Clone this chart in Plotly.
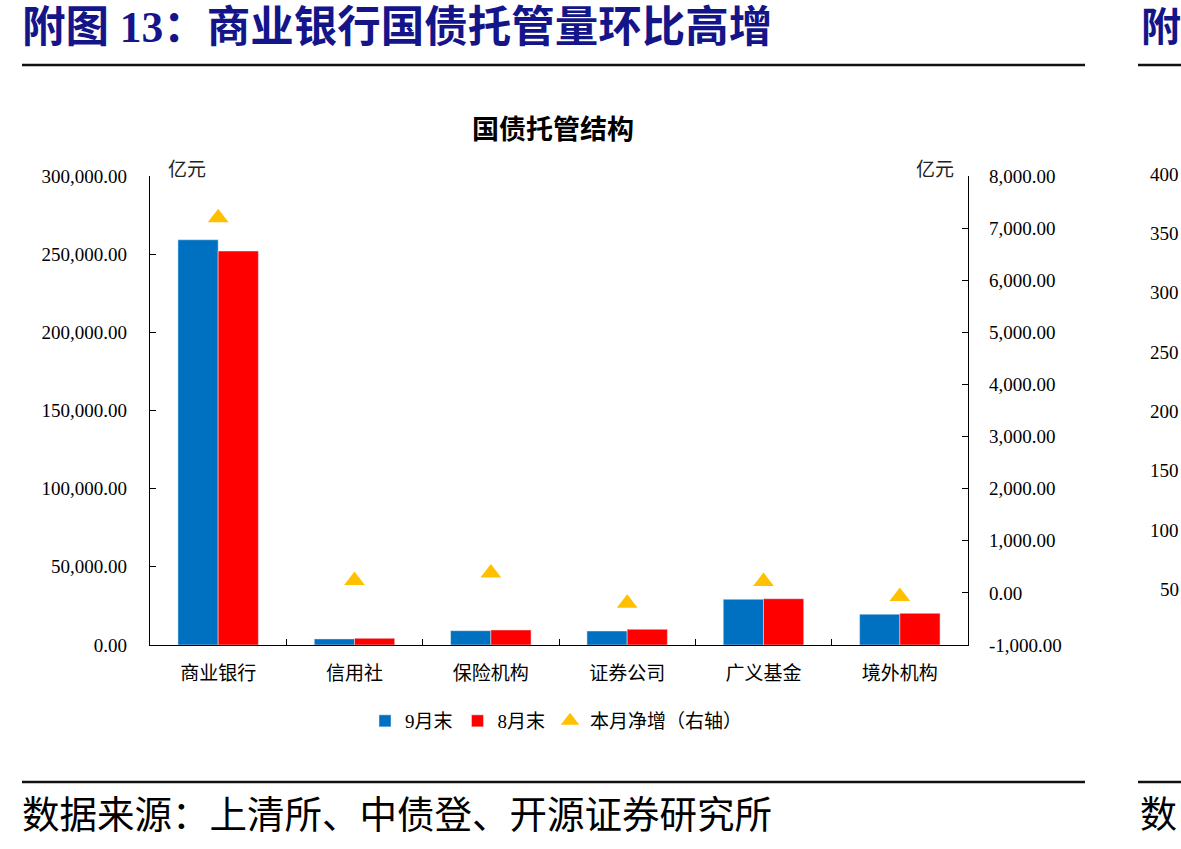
import plotly.graph_objects as go

W, H = 1181, 849

categories = ["商业银行", "信用社", "保险机构", "证券公司", "广义基金", "境外机构"]
sep_end = [259200, 3900, 9150, 8950, 29250, 19650]      # 9月末 (亿元)
aug_end = [252000, 4250, 9600, 10050, 29600, 20250]     # 8月末 (亿元)
net_increase = [7200, 240, 380, -200, 220, -70]        # 本月净增 (右轴, 亿元)

left_tick_vals = [0, 50000, 100000, 150000, 200000, 250000, 300000]
left_tick_text = ["0.00", "50,000.00", "100,000.00", "150,000.00", "200,000.00", "250,000.00", "300,000.00"]
right_tick_vals = [-1000, 0, 1000, 2000, 3000, 4000, 5000, 6000, 7000, 8000]
right_tick_text = ["-1,000.00", "0.00", "1,000.00", "2,000.00", "3,000.00", "4,000.00",
                   "5,000.00", "6,000.00", "7,000.00", "8,000.00"]
clipped_ticks = ["400", "350", "300", "250", "200", "150", "100", "50"]


def px(x):
    return x / W


def py(y):
    return 1 - y / H


SERIF = "Liberation Serif, Times New Roman, Noto Sans CJK SC, serif"
CJK = "Noto Sans CJK SC, sans-serif"
NAVY = "#15158a"

fig = go.Figure()
fig.add_trace(go.Bar(x=categories, y=sep_end, name="9月末", marker_color="#0070C0",
                     yaxis="y"))
fig.add_trace(go.Bar(x=categories, y=aug_end, name="8月末", marker_color="#FF0000",
                     yaxis="y"))
fig.add_trace(go.Scatter(x=categories, y=net_increase, name="本月净增（右轴）", mode="markers",
                         marker=dict(symbol="triangle-up", size=18, color="#FFC000"),
                         yaxis="y2"))

fig.update_layout(
    width=W, height=H,
    margin=dict(l=0, r=0, t=0, b=0, pad=0, autoexpand=False),
    paper_bgcolor="white", plot_bgcolor="white",
    barmode="group", bargap=0.41, bargroupgap=0,
    showlegend=True,
    legend=dict(orientation="h", x=px(365), xanchor="left", y=py(702), yanchor="top",
                font=dict(family=SERIF, size=19, color="black"), itemwidth=30,
                bgcolor="rgba(0,0,0,0)"),
    xaxis=dict(domain=[px(150), px(968)], type="category", showline=True, linecolor="black",
               linewidth=1.3, ticks="inside", tickson="boundaries", ticklen=6, tickcolor="black",
               tickwidth=1.3, showgrid=False, zeroline=False, automargin=False,
               tickfont=dict(family=SERIF, size=19, color="black"), ticklabelstandoff=11,
               anchor="y"),
    yaxis=dict(domain=[py(645), py(176)], range=[0, 300000], tickvals=left_tick_vals,
               ticktext=left_tick_text, showline=True, linecolor="black", linewidth=1.3,
               ticks="inside", ticklen=6, tickcolor="black", tickwidth=1.3, showgrid=False,
               zeroline=False, automargin=False, tickfont=dict(family=SERIF, size=19, color="black"),
               ticklabelstandoff=18, anchor="x"),
    yaxis2=dict(overlaying="y", side="right", range=[-1000, 8000], tickvals=right_tick_vals,
                ticktext=right_tick_text, showline=True, linecolor="black", linewidth=1.3,
                ticks="inside", ticklen=6, tickcolor="black", tickwidth=1.3, showgrid=False,
                zeroline=False, automargin=False, tickfont=dict(family=SERIF, size=19, color="black"),
                ticklabelstandoff=16, anchor="x"),
)

ann = []
# header title
ann.append(dict(text="<b>附图 13：商业银行国债托管量环比高增</b>", x=px(20), y=py(27),
                xanchor="left", yanchor="middle",
                font=dict(family=SERIF, size=43.5, color=NAVY)))
ann.append(dict(text="<b>附</b>", x=px(1139), y=py(27), xanchor="left", yanchor="middle",
                font=dict(family=SERIF, size=40, color=NAVY)))
# chart title
ann.append(dict(text="<b>国债托管结构</b>", x=px(553), y=py(128), xanchor="center", yanchor="middle",
                font=dict(family=CJK, size=27, color="black")))
# units
ann.append(dict(text="亿元", x=px(166), y=py(167), xanchor="left", yanchor="middle",
                font=dict(family=CJK, size=19, color="#222")))
ann.append(dict(text="亿元", x=px(956), y=py(167), xanchor="right", yanchor="middle",
                font=dict(family=CJK, size=19, color="#222")))
# source
ann.append(dict(text="数据来源：上清所、中债登、开源证券研究所", x=px(20), y=py(815),
                xanchor="left", yanchor="middle",
                font=dict(family=SERIF, size=37.5, color="black")))
ann.append(dict(text="数", x=px(1138), y=py(815), xanchor="left", yanchor="middle",
                font=dict(family=SERIF, size=37, color="black")))
# clipped neighbour chart tick labels
for i, t in enumerate(clipped_ticks):
    ann.append(dict(text=t, x=px(1181), y=py(174 + i * 59.4), xanchor="right", yanchor="middle",
                    font=dict(family=SERIF, size=19, color="black")))
for a in ann:
    a.update(xref="paper", yref="paper", showarrow=False)
fig.update_layout(annotations=ann)

shapes = []
for y in (65, 782):
    shapes.append(dict(type="line", xref="paper", yref="paper", x0=px(22), x1=px(1085),
                       y0=py(y), y1=py(y), line=dict(color="#111", width=2.5)))
    shapes.append(dict(type="line", xref="paper", yref="paper", x0=px(1138), x1=px(1181),
                       y0=py(y), y1=py(y), line=dict(color="#111", width=2.5)))
fig.update_layout(shapes=shapes)

fig.write_html("out.html")
